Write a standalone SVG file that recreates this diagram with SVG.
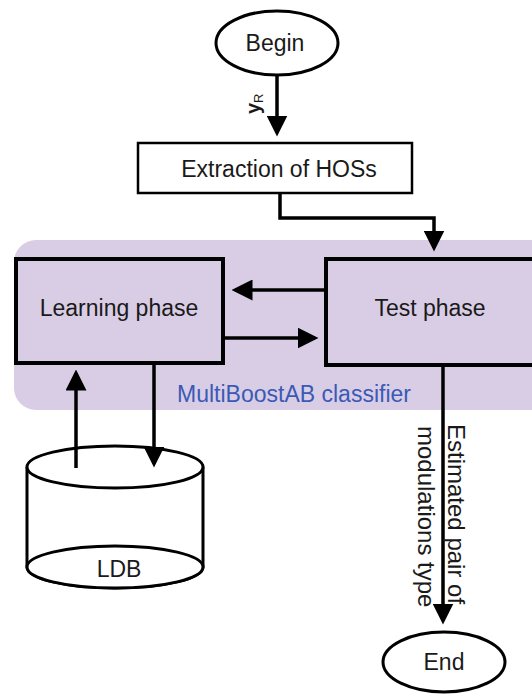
<svg xmlns="http://www.w3.org/2000/svg" width="532" height="700" viewBox="0 0 532 700">
<style>
text{font-family:"Liberation Sans",Arial,sans-serif;fill:#1a1a1a}
.t{font-size:23px;text-anchor:middle}
.line{fill:none;stroke:#000;stroke-width:3.5}
.box{fill:#d9cde6;stroke:#000;stroke-width:4}
</style>
<defs>
<marker id="ah" markerWidth="6" markerHeight="6" refX="5" refY="3" orient="auto" markerUnits="strokeWidth">
<path d="M0,0 L6,3 L0,6 Z" fill="#000"/>
</marker>
</defs>
<rect id="classifier" x="14" y="240" width="540" height="170" rx="22" fill="#d9cde6"/>
<g id="begin">
<ellipse cx="277" cy="43" rx="61" ry="32" fill="#fff" stroke="#000" stroke-width="3"/>
<text class="t" x="275" y="51">Begin</text>
</g>
<g id="extraction">
<rect x="138" y="143" width="274" height="50" fill="#fff" stroke="#000" stroke-width="2.5"/>
<text class="t" x="279" y="177">Extraction of HOSs</text>
</g>
<g id="learning">
<rect class="box" x="16" y="259" width="207" height="104"/>
<text class="t" x="119" y="316">Learning phase</text>
</g>
<g id="test">
<rect class="box" x="326" y="259" width="220" height="106"/>
<text class="t" x="430" y="316">Test phase</text>
</g>
<text x="294" y="402" font-size="23" style="fill:#3a5ab5" text-anchor="middle">MultiBoostAB classifier</text>
<g id="ldb">
<path d="M27,467 V567 A88,21 0 0 0 203,567 V467" fill="#fff" stroke="#000" stroke-width="3"/>
<ellipse cx="115" cy="467" rx="88" ry="21" fill="#fff" stroke="#000" stroke-width="3"/>
<ellipse cx="115" cy="567" rx="88" ry="21" fill="#fff" stroke="#000" stroke-width="3"/>
<text class="t" x="119" y="577">LDB</text>
</g>
<g id="end">
<ellipse cx="444" cy="662" rx="61" ry="30" fill="#fff" stroke="#000" stroke-width="3"/>
<text class="t" x="444" y="670">End</text>
</g>
<g id="connectors">
<path class="line" d="M277,75 V133" marker-end="url(#ah)"/>
<text x="0" y="0" font-size="20" font-weight="bold" transform="translate(260,114) rotate(-90)">y<tspan font-size="13" font-weight="normal" dy="3">R</tspan></text>
<path class="line" d="M280,193 V218 H434 V248" marker-end="url(#ah)"/>
<path class="line" d="M326,290 H235" marker-end="url(#ah)"/>
<path class="line" d="M223,338 H315" marker-end="url(#ah)"/>
<path class="line" d="M76,468 V373" marker-end="url(#ah)"/>
<path class="line" d="M154,363 V464" marker-end="url(#ah)"/>
<path class="line" d="M443,365 V621" marker-end="url(#ah)"/>
<text x="0" y="0" font-size="24" transform="translate(448,424) rotate(90)">Estimated pair of</text>
<text x="0" y="0" font-size="24" transform="translate(418,426) rotate(90)">modulations type</text>
</g>
</svg>
